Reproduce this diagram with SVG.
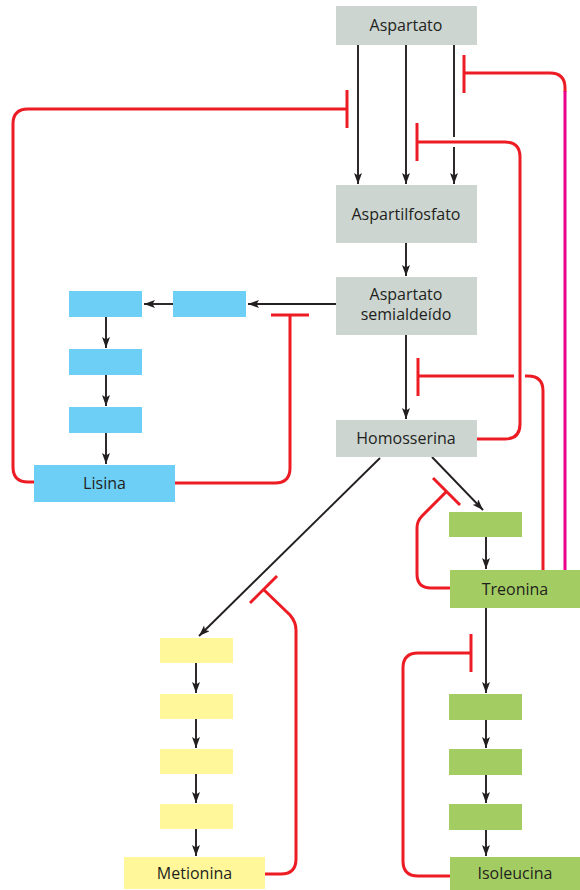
<svg xmlns="http://www.w3.org/2000/svg" width="580" height="890" viewBox="0 0 580 890">
<defs>
<marker id="ah" markerUnits="userSpaceOnUse" markerWidth="12" markerHeight="9" refX="11" refY="4" orient="auto">
<path d="M0,0 L11,4 L0,8 L2.5,4 z" fill="#231f20"/>
</marker>
</defs>
<style>
.gray{fill:#ccd5d0}
.blue{fill:#6dcff6}
.green{fill:#a3cd62}
.yellow{fill:#fff799}
.t{font-family:"Open Sans","Liberation Sans",sans-serif;font-size:16px;fill:#231f20;text-anchor:middle}
.a{stroke:#231f20;stroke-width:1.9;fill:none;marker-end:url(#ah)}
.r{stroke:#ed1c24;stroke-width:3;fill:none}
.m{stroke:#ec008c;stroke-width:3;fill:none}
.w{stroke:#ffffff;stroke-width:10;fill:none}
</style>
<rect width="580" height="890" fill="#ffffff"/>
<g id="connectors">
<line class="a" x1="358" y1="45" x2="358" y2="184"/>
<line class="a" x1="406" y1="45" x2="406" y2="184"/>
<line class="a" x1="454" y1="45" x2="454" y2="184"/>
<line class="a" x1="406" y1="243" x2="406" y2="276"/>
<line class="a" x1="406" y1="335" x2="406" y2="419"/>
<line class="a" x1="336" y1="304" x2="248" y2="304"/>
<line class="a" x1="173" y1="304" x2="144" y2="304"/>
<line class="a" x1="106" y1="317" x2="106" y2="348"/>
<line class="a" x1="106" y1="375" x2="106" y2="406"/>
<line class="a" x1="106" y1="433" x2="106" y2="464"/>
<line class="a" x1="380" y1="458" x2="199" y2="636"/>
<line class="a" x1="196" y1="663" x2="196" y2="693"/>
<line class="a" x1="196" y1="719" x2="196" y2="748"/>
<line class="a" x1="196" y1="774" x2="196" y2="803"/>
<line class="a" x1="196" y1="829" x2="196" y2="856"/>
<line class="a" x1="432" y1="457" x2="483" y2="510"/>
<line class="a" x1="486" y1="537" x2="486" y2="569"/>
<line class="a" x1="486" y1="608" x2="486" y2="693"/>
<line class="a" x1="486" y1="720" x2="486" y2="748"/>
<line class="a" x1="486" y1="775" x2="486" y2="803"/>
<line class="a" x1="486" y1="830" x2="486" y2="856"/>
<!-- Lisina feedback to Aspartato -->
<path class="r" d="M34,482 H28 Q13,482 13,467 V124 Q13,109 28,109 H347"/>
<line class="r" x1="347" y1="90" x2="347" y2="128"/>
<!-- Lisina feedback to semialdeido branch -->
<path class="r" d="M175,483 H275 Q290,483 290,468 V315"/>
<line class="r" x1="271" y1="315" x2="309" y2="315"/>
<!-- Homosserina feedback to Aspartato -->
<line class="w" x1="420" y1="142" x2="505" y2="142"/>
<path class="r" d="M477,439 H505 Q520,439 520,424 V157 Q520,142 505,142 H417"/>
<line class="r" x1="417" y1="123" x2="417" y2="161"/>
<!-- Treonina feedback to Aspartato -->
<path class="r" d="M464,73 H550 Q565,73 565,88 V92"/>
<line class="m" x1="565" y1="91" x2="565" y2="570"/>
<line class="r" x1="464" y1="55" x2="464" y2="93"/>
<!-- Treonina feedback to Homosserina step -->
<line class="r" x1="418" y1="376" x2="514" y2="376"/>
<path class="r" d="M525,376 H528 Q543,376 543,391 V570"/>
<line class="r" x1="418" y1="358" x2="418" y2="396"/>
<!-- Treonina self feedback -->
<path class="r" d="M450,588 H431 Q417,588 417,574 V528 Q417,521 422,516 L447,491"/>
<line class="r" x1="433" y1="478" x2="460" y2="505"/>
<!-- Metionina feedback -->
<path class="r" d="M265,874 H281 Q296,874 296,859 V630 Q296,622 290,615 L263,589"/>
<line class="r" x1="250" y1="603" x2="277" y2="576"/>
<!-- Isoleucina feedback -->
<path class="r" d="M450,876 H418 Q403,876 403,861 V668 Q403,653 418,653 H471"/>
<line class="r" x1="471" y1="634" x2="471" y2="672"/>
</g>
<g id="aspartato"><rect class="gray" x="336" y="6" width="141" height="39"/><text class="t" x="406" y="31">Aspartato</text></g>
<g id="aspartilfosfato"><rect class="gray" x="336" y="185" width="141" height="58"/><text class="t" x="406" y="220">Aspartilfosfato</text></g>
<g id="semialdeido"><rect class="gray" x="336" y="277" width="141" height="58"/><text class="t" x="406" y="300"><tspan x="406">Aspartato</tspan><tspan x="406" dy="20">semialdeído</tspan></text></g>
<g id="homosserina"><rect class="gray" x="336" y="420" width="141" height="37"/><text class="t" x="406" y="444">Homosserina</text></g>
<g id="lys1"><rect class="blue" x="173" y="291" width="73" height="26"/></g>
<g id="lys2"><rect class="blue" x="69" y="291" width="73" height="26"/></g>
<g id="lys3"><rect class="blue" x="69" y="349" width="73" height="26"/></g>
<g id="lys4"><rect class="blue" x="69" y="407" width="73" height="26"/></g>
<g id="lisina"><rect class="blue" x="34" y="465" width="141" height="37"/><text class="t" x="104.5" y="489">Lisina</text></g>
<g id="thr1"><rect class="green" x="449" y="512" width="73" height="25"/></g>
<g id="treonina"><rect class="green" x="450" y="570" width="130" height="38"/><text class="t" x="515" y="595">Treonina</text></g>
<g id="ile1"><rect class="green" x="449" y="694" width="73" height="26"/></g>
<g id="ile2"><rect class="green" x="449" y="749" width="73" height="26"/></g>
<g id="ile3"><rect class="green" x="449" y="804" width="73" height="26"/></g>
<g id="isoleucina"><rect class="green" x="450" y="857" width="130" height="33"/><text class="t" x="515" y="879">Isoleucina</text></g>
<g id="met1"><rect class="yellow" x="160" y="638" width="73" height="25"/></g>
<g id="met2"><rect class="yellow" x="160" y="694" width="73" height="25"/></g>
<g id="met3"><rect class="yellow" x="160" y="749" width="73" height="25"/></g>
<g id="met4"><rect class="yellow" x="160" y="804" width="73" height="25"/></g>
<g id="metionina"><rect class="yellow" x="124" y="857" width="141" height="32"/><text class="t" x="194.5" y="879">Metionina</text></g>
</svg>
